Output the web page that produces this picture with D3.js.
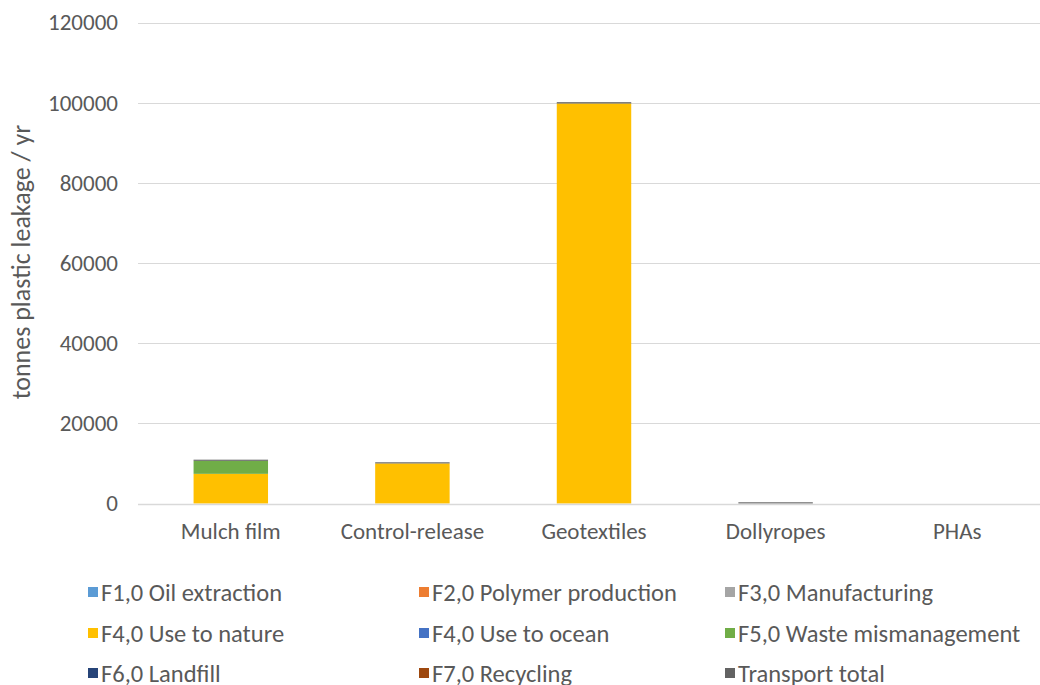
<!DOCTYPE html>
<html>
<head>
<meta charset="utf-8">
<script src="https://cdn.jsdelivr.net/npm/d3@7"></script>
<style>
  html, body { margin: 0; padding: 0; background: #fff; }
  svg { display: block; }
  text { font-family: Carlito, Lato, "Liberation Sans", sans-serif; fill: #595959; }
</style>
</head>
<body>
<svg id="chart" width="1040" height="685"></svg>
<script>
// Product categories on the x axis
const categories = ["Mulch film", "Control-release", "Geotextiles", "Dollyropes", "PHAs"];

// Leakage per stage (tonnes / yr), one value per category
const f1OilExtraction      = [0, 0, 0, 0, 0];
const f2PolymerProduction  = [0, 0, 0, 0, 0];
const f3Manufacturing      = [0, 0, 0, 0, 0];
const f4UseToNature        = [7400, 10000, 99800, 0, 0];
const f4UseToOcean         = [0, 0, 0, 0, 0];
const f5WasteMismanagement = [3250, 0, 0, 0, 0];
const f6Landfill           = [0, 0, 0, 0, 0];
const f7Recycling          = [0, 0, 0, 0, 0];
const transportTotal       = [280, 280, 320, 300, 0];

const seriesNames = [
  "F1,0 Oil extraction", "F2,0 Polymer production", "F3,0 Manufacturing",
  "F4,0 Use to nature", "F4,0 Use to ocean", "F5,0 Waste mismanagement",
  "F6,0 Landfill", "F7,0 Recycling", "Transport total"
];
const seriesValues = [
  f1OilExtraction, f2PolymerProduction, f3Manufacturing,
  f4UseToNature, f4UseToOcean, f5WasteMismanagement,
  f6Landfill, f7Recycling, transportTotal
];
const seriesColors = [
  "#5b9bd5", "#ed7d31", "#a5a5a5",
  "#ffc000", "#4472c4", "#70ad47",
  "#264478", "#9e480e", "#636363"
];

const yTicks = [0, 20000, 40000, 60000, 80000, 100000, 120000];

const FONT = "Carlito, Lato, 'Liberation Sans', sans-serif";

// Build rows for the stack layout
const rows = categories.map((c, i) => {
  const r = { category: c };
  seriesNames.forEach((s, j) => { r[s] = seriesValues[j][i]; });
  return r;
});

const svg = d3.select("#chart");

const x = d3.scaleBand()
  .domain(categories)
  .range([140, 1048])
  .paddingInner(0.59)
  .paddingOuter(0.295);

const y = d3.scaleLinear()
  .domain([0, 120000])
  .range([503.5, 22.5]);

// Horizontal gridlines
svg.append("g")
  .selectAll("line")
  .data(yTicks)
  .join("line")
  .attr("x1", 138)
  .attr("x2", 1040)
  .attr("y1", d => Math.round(y(d)) + 0.5)
  .attr("y2", d => Math.round(y(d)) + 0.5)
  .attr("stroke", "#d9d9d9")
  .attr("stroke-width", 1);

// Y axis tick labels
const yAxis = d3.axisLeft(y).tickValues(yTicks).tickSize(0).tickPadding(0).tickFormat(d3.format("d"));
const yAxisG = svg.append("g")
  .attr("transform", "translate(118,0)")
  .call(yAxis);
yAxisG.select(".domain").remove();
yAxisG.selectAll("text")
  .attr("font-size", "23px")
  .style("font-family", FONT)
  .attr("fill", "#595959");

// Stacked bars
const stack = d3.stack().keys(seriesNames);
const stacked = stack(rows);

svg.append("g")
  .selectAll("g")
  .data(stacked)
  .join("g")
  .attr("fill", (d, i) => seriesColors[i])
  .selectAll("rect")
  .data(d => d)
  .join("rect")
  .attr("x", d => x(d.data.category))
  .attr("width", x.bandwidth())
  .attr("y", d => y(d[1]))
  .attr("height", d => Math.max(0, y(d[0]) - y(d[1])));

// Baseline
svg.append("line")
  .attr("x1", 138).attr("x2", 1040)
  .attr("y1", Math.round(y(0)) + 0.5).attr("y2", Math.round(y(0)) + 0.5)
  .attr("stroke", "#d9d9d9").attr("stroke-width", 1.5);

// Category labels
const xAxis = d3.axisBottom(x).tickSize(0).tickPadding(0);
const xAxisG = svg.append("g")
  .attr("transform", "translate(0,523)")
  .call(xAxis);
xAxisG.select(".domain").remove();
xAxisG.selectAll("text")
  .attr("font-size", "23px")
  .style("font-family", FONT)
  .attr("fill", "#595959");

// Y axis title
svg.append("text")
  .attr("transform", "translate(30,262) rotate(-90)")
  .attr("text-anchor", "middle")
  .attr("font-size", "26px")
  .text("tonnes plastic leakage / yr");

// Legend: three columns, three rows
const legendCols = [88, 419, 725];
const legendRows = [592, 633, 673];
const legend = svg.append("g")
  .selectAll("g")
  .data(seriesNames)
  .join("g")
  .attr("transform", (d, i) => `translate(${legendCols[i % 3]},${legendRows[Math.floor(i / 3)]})`);

legend.append("rect")
  .attr("x", 0).attr("y", -5)
  .attr("width", 10).attr("height", 10)
  .attr("fill", (d, i) => seriesColors[i]);

legend.append("text")
  .attr("x", 13)
  .attr("y", 0)
  .attr("dy", "0.35em")
  .attr("font-size", "24.5px")
  .text(d => d);
</script>
</body>
</html>
